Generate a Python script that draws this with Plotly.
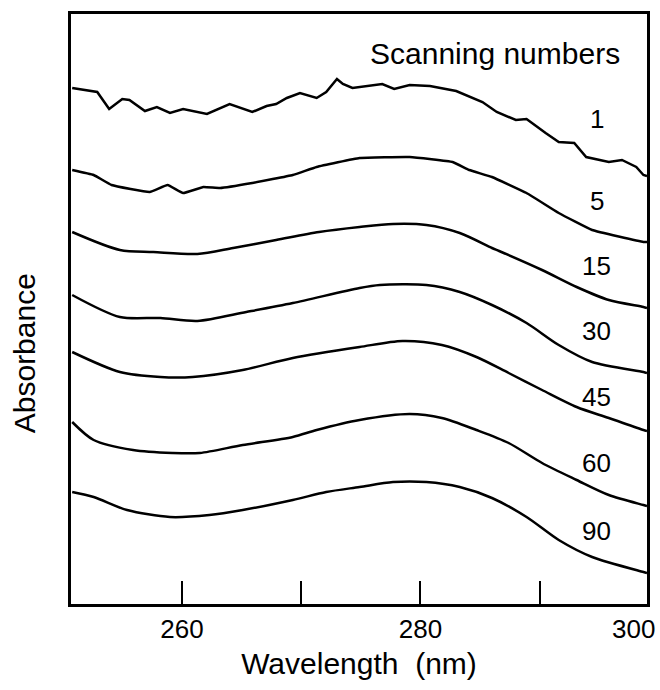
import plotly.graph_objects as go

# Wavelength (nm) / absorbance (arbitrary, offset)
wl_1 = [250.8, 252.9, 253.9, 255.0, 255.6, 256.9, 257.9, 259.0, 260.1, 260.9, 262.1, 264.0,
        265.1, 265.9, 267.1, 267.9, 268.8, 269.9, 271.3, 272.1, 273.0, 273.5, 274.3, 276.8,
        277.8, 279.1, 280.8, 283.0, 285.2, 286.4, 288.0, 288.9, 290.5, 291.6, 292.9, 293.9,
        295.8, 296.9, 298.1, 298.7, 299.0]
abs_1 = [5.16, 5.12, 4.95, 5.05, 5.04, 4.93, 4.97, 4.91, 4.95, 4.93, 4.90, 5.00,
         4.95, 4.92, 4.98, 5.00, 5.06, 5.11, 5.06, 5.12, 5.25, 5.20, 5.16, 5.20,
         5.15, 5.19, 5.18, 5.13, 5.02, 4.92, 4.84, 4.85, 4.71, 4.62, 4.61, 4.47,
         4.42, 4.44, 4.37, 4.29, 4.28]

wl_5 = [250.8, 252.6, 254.1, 257.3, 258.8, 260.1, 261.8, 263.2, 265.9, 269.3, 271.3, 274.9,
        279.1, 282.7, 284.1, 286.0, 288.9, 291.6, 294.4, 298.7, 299.0]
abs_5 = [4.34, 4.29, 4.19, 4.12, 4.19, 4.11, 4.17, 4.16, 4.21, 4.29, 4.37, 4.46,
         4.47, 4.42, 4.34, 4.27, 4.11, 3.91, 3.74, 3.62, 3.62]

wl_15 = [250.8, 254.8, 257.6, 261.3, 264.3, 267.9, 271.5, 274.9, 277.7, 280.5, 283.3, 286.0,
         286.6, 290.2, 293.1, 295.8, 298.7, 299.0]
abs_15 = [3.72, 3.54, 3.52, 3.50, 3.56, 3.64, 3.72, 3.77, 3.80, 3.79, 3.71, 3.56,
          3.53, 3.34, 3.17, 3.04, 2.97, 2.96]

wl_30 = [250.8, 254.8, 258.2, 261.3, 265.4, 269.3, 274.9, 276.6, 280.5, 283.3, 286.0, 288.9,
         291.6, 294.4, 298.7, 299.0]
abs_30 = [3.09, 2.87, 2.86, 2.83, 2.92, 3.01, 3.16, 3.19, 3.19, 3.12, 2.99, 2.81,
          2.59, 2.42, 2.32, 2.31]

wl_45 = [250.8, 254.8, 258.2, 260.9, 265.1, 269.3, 274.9, 278.5, 281.8, 284.7, 287.4, 290.2,
         293.1, 295.8, 298.7, 299.0]
abs_45 = [2.52, 2.32, 2.27, 2.27, 2.34, 2.46, 2.57, 2.63, 2.59, 2.47, 2.31, 2.14,
          1.97, 1.86, 1.74, 1.73]

wl_60 = [250.8, 252.6, 255.9, 259.2, 261.5, 265.1, 269.3, 271.3, 274.9, 279.1, 281.8, 284.7,
         287.4, 290.2, 293.1, 295.8, 298.7, 299.0]
abs_60 = [1.82, 1.64, 1.54, 1.51, 1.51, 1.59, 1.67, 1.74, 1.84, 1.90, 1.86, 1.74,
          1.61, 1.41, 1.24, 1.09, 0.99, 0.98]

wl_90 = [250.8, 252.6, 255.4, 259.0, 262.3, 265.1, 269.3, 272.1, 274.9, 277.7, 280.5, 283.3,
         286.0, 288.9, 291.6, 294.4, 298.7, 299.0]
abs_90 = [1.12, 1.07, 0.94, 0.87, 0.89, 0.94, 1.04, 1.12, 1.17, 1.22, 1.22, 1.17,
          1.06, 0.87, 0.64, 0.47, 0.32, 0.31]

scan_labels = ["1", "5", "15", "30", "45", "60", "90"]
label_y = [4.85, 4.03, 3.38, 2.73, 2.07, 1.41, 0.73]
label_x = 294.8

series = [(wl_1, abs_1), (wl_5, abs_5), (wl_15, abs_15), (wl_30, abs_30),
          (wl_45, abs_45), (wl_60, abs_60), (wl_90, abs_90)]
smoothing = [0.0, 0.3, 0.8, 0.8, 0.8, 0.8, 0.8]

x_tickvals = [260, 270, 280, 290]
x_ticktext = ["260", "", "280", ""]

FONT = "Liberation Sans, Arial, Helvetica, sans-serif"

fig = go.Figure()
for (xs, ys), name, sm in zip(series, scan_labels, smoothing):
    line = dict(color="black", width=2.5)
    if sm > 0:
        line.update(shape="spline", smoothing=sm)
    fig.add_trace(go.Scatter(x=xs, y=ys, mode="lines", name=name,
                             line=line, showlegend=False))

for name, ly in zip(scan_labels, label_y):
    fig.add_annotation(x=label_x, y=ly, text=name, showarrow=False,
                       font=dict(size=26, color="black", family=FONT),
                       xanchor="center", yanchor="middle")

fig.add_annotation(x=296.9, y=5.51, text="Scanning numbers", showarrow=False,
                   font=dict(size=30, color="black", family=FONT),
                   xanchor="right", yanchor="middle")

# "300" label at the right end of the axis
fig.add_annotation(x=297.9, y=0, yref="y", text="300", showarrow=False,
                   font=dict(size=26, color="black", family=FONT),
                   xanchor="center", yanchor="top", yshift=-8)

# y-axis title (sits a little below the middle of the frame)
fig.add_annotation(xref="paper", x=0, xshift=-47, yref="paper", y=0.425,
                   text="Absorbance", textangle=-90, showarrow=False,
                   font=dict(size=30, color="black", family=FONT),
                   xanchor="center", yanchor="middle")

fig.update_layout(
    width=660, height=690,
    margin=dict(l=71, r=13, t=14, b=86),
    paper_bgcolor="white", plot_bgcolor="white",
    font=dict(family=FONT, color="black", size=26),
)
fig.update_xaxes(range=[250.7, 299.0], showgrid=False, zeroline=False,
                 showline=True, linecolor="black", linewidth=3, mirror=True,
                 ticks="inside", ticklen=23, tickwidth=2, tickcolor="black",
                 tickvals=x_tickvals, ticktext=x_ticktext,
                 tickfont=dict(size=26, family=FONT), automargin=False,
                 title=dict(text="Wavelength  (nm)", font=dict(size=30, family=FONT), standoff=10))
fig.update_yaxes(range=[0, 5.9], showgrid=False, zeroline=False,
                 showline=True, linecolor="black", linewidth=3, mirror=True,
                 showticklabels=False, ticks="", automargin=False)

fig.write_html("out.html")
